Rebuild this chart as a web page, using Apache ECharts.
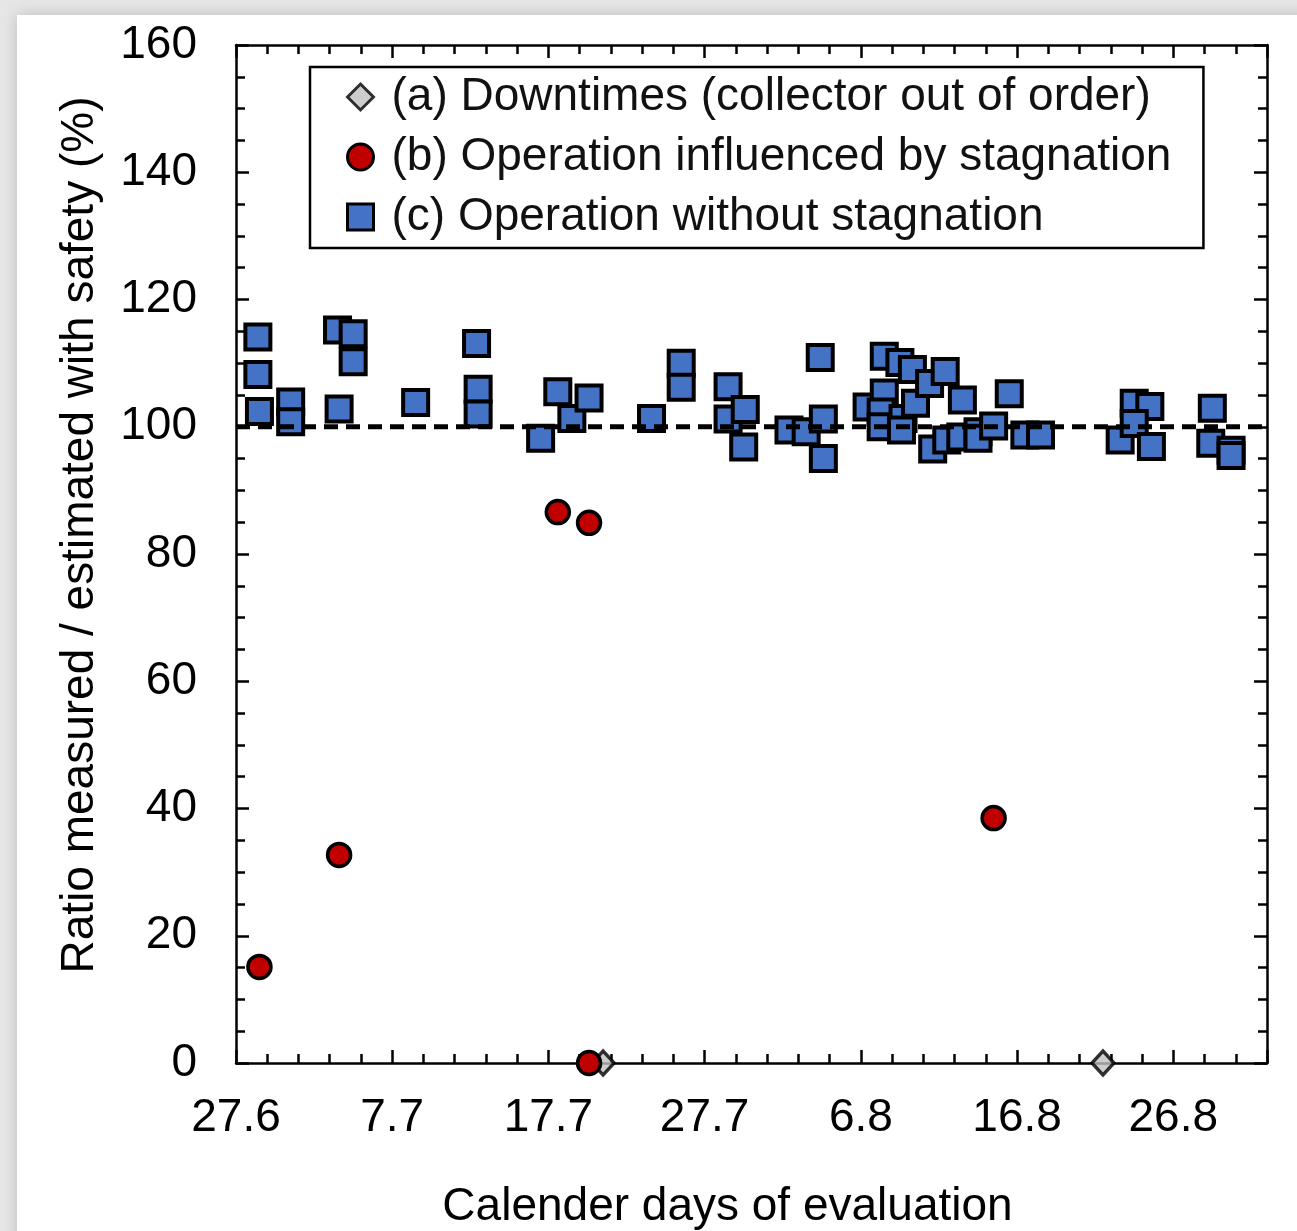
<!DOCTYPE html>
<html>
<head>
<meta charset="utf-8">
<script src="https://cdn.jsdelivr.net/npm/echarts@6/dist/echarts.min.js"></script>
<style>
  html, body { margin: 0; padding: 0; background: #e6e6e6; }
  #paper {
    position: absolute; left: 17px; top: 15px; width: 1300px; height: 1240px;
    background: #fff; box-shadow: 0 0 14px rgba(0,0,0,0.18);
  }
  #main { position: absolute; left: 0; top: 0; width: 1297px; height: 1231px; }
</style>
</head>
<body>
<div id="paper"></div>
<div id="main"></div>
<script>
// x = days since 27.6 (plotted at the middle of the day)
var xTickLabels = ['27.6', '7.7', '17.7', '27.7', '6.8', '16.8', '26.8'];
var xMin = 0, xMax = 66;

// (a) downtimes
var downDays = [23.5, 55.5];
var downVals = [0, 0];

// (b) influenced by stagnation
var stagDays = [1.5, 6.6, 20.6, 22.6, 22.6, 48.5];
var stagVals = [15.1, 32.7, 86.6, 84.9, 0, 38.5];

// (c) without stagnation
var normDays = [1.4, 1.4, 1.5, 3.5, 3.5, 6.5, 7.5, 7.5, 6.6, 11.5, 15.4, 15.5, 15.5,
  19.5, 20.6, 21.5, 22.6, 26.6, 28.5, 28.5, 31.5, 31.5, 32.6, 32.5,
  37.4, 35.4, 36.5, 37.6, 37.6, 40.4, 41.5, 41.5, 41.3, 41.3, 42.5, 43.3, 42.7, 42.6,
  43.5, 44.4, 45.4, 44.6, 45.5, 46.5, 46.4, 47.5, 47.5, 48.5, 49.5, 50.5, 51.5,
  56.6, 57.5, 58.5, 57.5, 58.6, 62.5, 62.4, 63.7, 63.7];
var normVals = [114.1, 108.2, 102.4, 103.9, 100.8, 115.2, 114.6, 110.2, 102.8, 103.8, 113.1, 105.9, 102.0,
  98.2, 105.5, 101.3, 104.5, 101.3, 110.0, 106.2, 106.3, 101.2, 102.7, 96.8,
  110.9, 99.5, 99.2, 101.2, 95.0, 103.1, 111.1, 105.3, 102.3, 100.0, 110.1, 109.0, 101.3, 99.5,
  103.7, 106.8, 108.7, 96.5, 97.9, 104.2, 98.4, 99.2, 98.2, 100.1, 105.2, 98.7, 98.7,
  97.9, 103.7, 103.2, 100.5, 96.9, 102.9, 97.4, 96.3, 95.5];

// 100 % reference line
var refLine = 100;

function pairs(xs, ys) {
  return xs.map(function (x, i) { return [x, ys[i]]; });
}

var font = 'Liberation Sans, Arial, sans-serif';
var myChart = echarts.init(document.getElementById('main'));

var lineCommon = { onZero: false, lineStyle: { color: '#000', width: 2.5 } };
var tickCommon = { show: true, inside: true, length: 13, lineStyle: { color: '#000', width: 2.5 } };
var minorCommon = { show: true, length: 9, lineStyle: { color: '#000', width: 2.5 } };

myChart.setOption({
  animation: false,
  backgroundColor: 'transparent',
  textStyle: { fontFamily: font },
  grid: { left: 236, top: 45, width: 1031, height: 1018, containLabel: false, outerBoundsMode: 'none' },
  legend: {
    orient: 'vertical',
    left: 310, top: 67,
    borderColor: '#000', borderWidth: 2.5,
    padding: [7, 32, 8, 36],
    itemGap: 14,
    itemWidth: 26, itemHeight: 26,
    textStyle: { fontFamily: font, fontSize: 46, color: '#111', padding: [0, 0, 0, 13] },
    data: [
      { name: '(a) Downtimes (collector out of order)', itemStyle: { borderWidth: 3 } },
      { name: '(b) Operation influenced by stagnation', itemStyle: { borderWidth: 3 } },
      { name: '(c) Operation without stagnation', itemStyle: { borderWidth: 3 } }
    ]
  },
  xAxis: [{
    type: 'value', min: xMin, max: xMax, interval: 10,
    splitLine: { show: false },
    axisLine: lineCommon,
    axisTick: tickCommon,
    minorTick: Object.assign({ splitNumber: 5 }, minorCommon),
    axisLabel: {
      color: '#000', fontSize: 46, margin: 32, fontFamily: font,
      formatter: function (v) { return xTickLabels[Math.round(v / 10)]; }
    },
    name: 'Calender days of evaluation',
    nameLocation: 'middle', nameGap: 121,
    nameTextStyle: { color: '#000', fontSize: 46, fontFamily: font, padding: [0, 48, 0, 0] }
  }, {
    type: 'value', min: xMin, max: xMax, interval: 10, position: 'top',
    splitLine: { show: false },
    axisLine: lineCommon,
    axisTick: tickCommon,
    minorTick: Object.assign({ splitNumber: 5 }, minorCommon),
    axisLabel: { show: false }
  }],
  yAxis: [{
    type: 'value', min: 0, max: 160, interval: 20,
    splitLine: { show: false },
    axisLine: lineCommon,
    axisTick: tickCommon,
    minorTick: Object.assign({ splitNumber: 4 }, minorCommon),
    axisLabel: { color: '#000', fontSize: 46, margin: 39, fontFamily: font },
    name: 'Ratio measured / estimated with safety (%)',
    nameLocation: 'middle', nameGap: 133,
    nameTextStyle: { color: '#000', fontSize: 46, fontFamily: font, padding: [0, 0, 0, 38] }
  }, {
    type: 'value', min: 0, max: 160, interval: 20, position: 'right',
    splitLine: { show: false },
    axisLine: lineCommon,
    axisTick: tickCommon,
    minorTick: Object.assign({ splitNumber: 4 }, minorCommon),
    axisLabel: { show: false }
  }],
  series: [{
    name: '(a) Downtimes (collector out of order)',
    type: 'scatter', symbol: 'diamond', symbolSize: [22, 24],
    itemStyle: { color: '#c0c0c0', borderColor: '#000', borderWidth: 3.5 },
    data: pairs(downDays, downVals), z: 3
  }, {
    name: '(b) Operation influenced by stagnation',
    type: 'scatter', symbol: 'circle', symbolSize: 23,
    itemStyle: { color: '#c00000', borderColor: '#000', borderWidth: 3.5, opacity: 1 },
    data: pairs(stagDays, stagVals), z: 4
  }, {
    name: '(c) Operation without stagnation',
    type: 'scatter', symbol: 'rect', symbolSize: 25,
    itemStyle: { color: '#4472c4', borderColor: '#000', borderWidth: 4, opacity: 1 },
    data: pairs(normDays, normVals), z: 2
  }, {
    name: 'ref',
    type: 'line', z: 10, silent: true,
    showSymbol: false, symbol: 'none',
    lineStyle: { color: '#000', width: 5, type: [14, 8] },
    data: [[xMin, refLine], [xMax, refLine]]
  }]
});
</script>
</body>
</html>
